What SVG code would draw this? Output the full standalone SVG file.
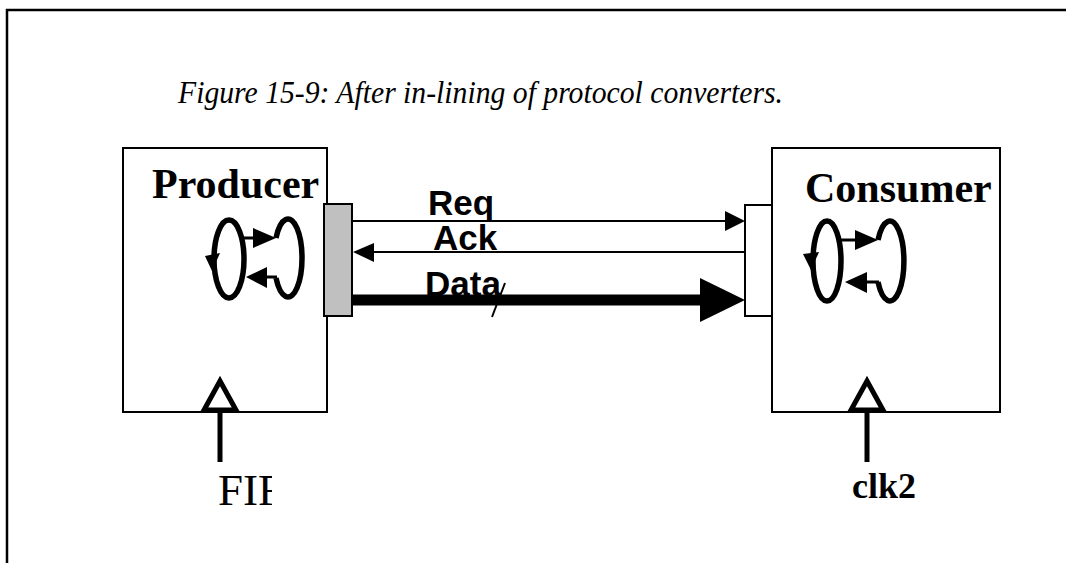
<svg xmlns="http://www.w3.org/2000/svg" width="1066" height="563" viewBox="0 0 1066 563">
<defs>
<style>
.box{fill:#fff;stroke:#000;stroke-width:2}
.loop{fill:none;stroke:#000;stroke-width:5.5}
.clk{fill:#fff;stroke:#000;stroke-width:5;stroke-linejoin:miter}
.stem{stroke:#000;stroke-width:5}
.sig{font-family:"Liberation Sans",Arial,sans-serif;font-weight:bold;font-size:35px}
.name{font-family:"Liberation Serif","Times New Roman",serif;font-weight:bold;font-size:42px}
</style>
<clipPath id="fifoClip"><rect x="150" y="460" width="122" height="60"/></clipPath>
</defs>
<rect width="1066" height="563" fill="#fff"/>
<g id="frame" stroke="#000" stroke-width="2.5" fill="none">
<line x1="6" y1="10" x2="1066" y2="10"/>
<line x1="7" y1="9" x2="7" y2="563"/>
</g>
<text id="title" x="178" y="103" font-family="'Liberation Serif','Times New Roman',serif" font-style="italic" font-size="31" textLength="605" lengthAdjust="spacingAndGlyphs">Figure 15-9: After in-lining of protocol converters.</text>

<g id="producer">
<rect class="box" x="123" y="148" width="204" height="264"/>
<text class="name" x="152" y="198">Producer</text>
<ellipse class="loop" cx="229" cy="259" rx="15" ry="39"/>
<path class="loop" d="M276,238 A14,39 0 1 1 276,278"/>
<line x1="244" y1="238" x2="256" y2="238" stroke="#000" stroke-width="3"/>
<polygon points="253,228 276,238 253,248"/>
<line x1="266" y1="277" x2="277" y2="277" stroke="#000" stroke-width="3"/>
<polygon points="267,267 246,277 267,288"/>
<polygon points="205,256 220,253 212,271"/>
<rect x="324" y="204" width="28" height="112" fill="#c0c0c0" stroke="#000" stroke-width="2"/>
<polygon class="clk" points="220,381 204,410 236,410"/>
<line class="stem" x1="220" y1="412" x2="220" y2="462"/>
<text x="218" y="505" clip-path="url(#fifoClip)" font-family="'Liberation Serif','Times New Roman',serif" font-size="45">FIF</text>
</g>

<g id="consumer">
<rect class="box" x="772" y="148" width="228" height="264"/>
<text class="name" x="805" y="202">Consumer</text>
<ellipse class="loop" cx="827" cy="261" rx="14" ry="40"/>
<path class="loop" d="M878,240 A14,40 0 1 1 878,282"/>
<line x1="841" y1="240" x2="857" y2="240" stroke="#000" stroke-width="3"/>
<polygon points="855,230 878,240 855,250"/>
<line x1="866" y1="282" x2="879" y2="282" stroke="#000" stroke-width="3"/>
<polygon points="867,272 845,282 867,293"/>
<polygon points="803,254 819,252 811,270"/>
<rect x="745" y="205" width="27" height="111" fill="#fff" stroke="#000" stroke-width="2"/>
<polygon class="clk" points="867,381 851,410 883,410"/>
<line class="stem" x1="867" y1="412" x2="867" y2="462"/>
<text x="852" y="498" font-family="'Liberation Serif','Times New Roman',serif" font-weight="bold" font-size="36">clk2</text>
</g>

<g id="connectors">
<line x1="352" y1="221" x2="727" y2="221" stroke="#000" stroke-width="2"/>
<polygon points="725,211 745,221 725,231"/>
<line x1="745" y1="252" x2="372" y2="252" stroke="#000" stroke-width="2"/>
<polygon points="374,243 353,252 374,262"/>
<line x1="353" y1="300" x2="702" y2="300" stroke="#000" stroke-width="11"/>
<polygon points="700,278 745,300 700,322"/>
<line x1="505" y1="283" x2="492" y2="317" stroke="#000" stroke-width="2"/>
<text class="sig" x="428" y="215">Req</text>
<text class="sig" x="433" y="250">Ack</text>
<text class="sig" x="425" y="296">Data</text>
</g>
</svg>
